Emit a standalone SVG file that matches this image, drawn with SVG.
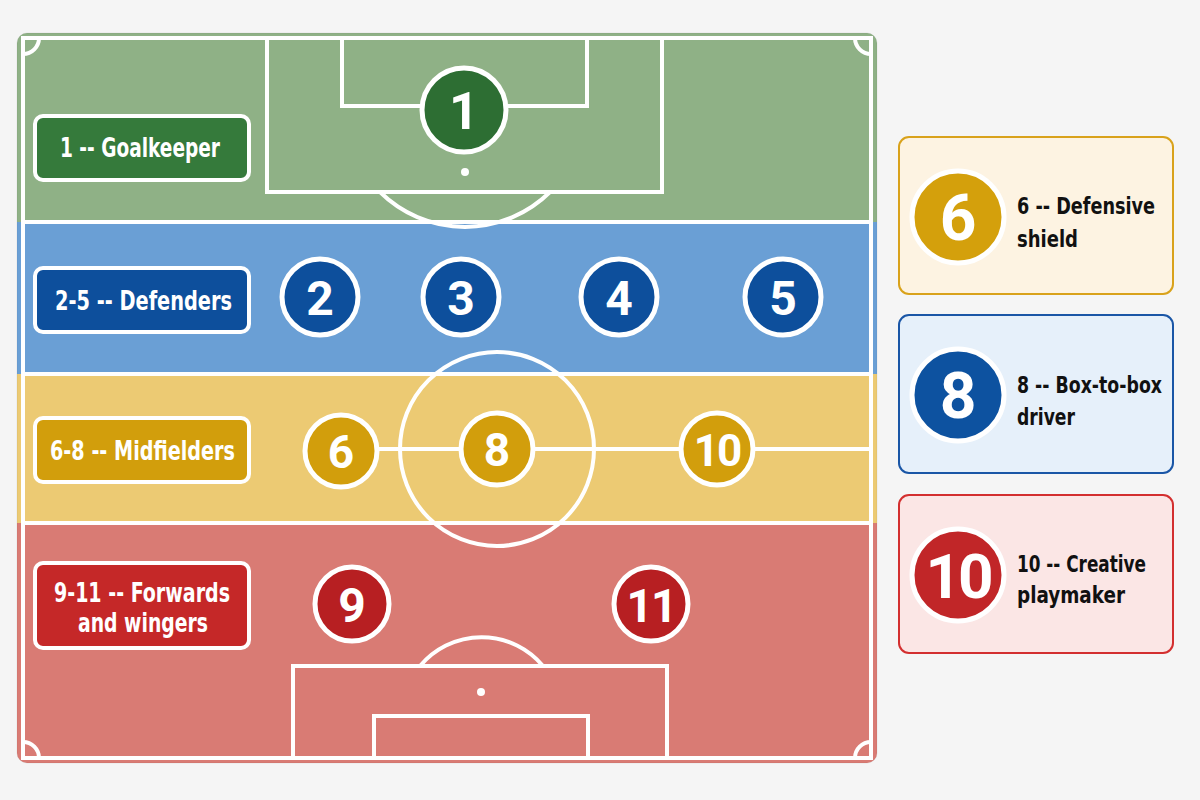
<svg xmlns="http://www.w3.org/2000/svg" width="1200" height="800" viewBox="0 0 1200 800">
  <style>
    .line { fill: none; stroke: #ffffff; stroke-width: 4; }
    .lbl { font-family: "DejaVu Sans Condensed", "Roboto", sans-serif; font-weight: bold; fill: #ffffff; font-size: 26px; }
    .num { font-family: "Roboto", "Liberation Sans", sans-serif; font-weight: bold; fill: #ffffff; text-anchor: middle; }
    .lgd { font-family: "DejaVu Sans Condensed", "Roboto", sans-serif; font-weight: bold; fill: #111111; font-size: 23px; }
    .box { stroke: #ffffff; stroke-width: 4; }
    .pl { stroke: #ffffff; stroke-width: 5; }
  </style>
  <defs>
    <clipPath id="fieldClip">
      <rect x="17" y="33" width="860" height="730" rx="10"/>
    </clipPath>
  </defs>
  <rect width="1200" height="800" fill="#f5f5f5"/>

  <g id="field">
    <g clip-path="url(#fieldClip)">
      <rect x="17" y="33" width="860" height="190" fill="#8fb186"/>
      <rect x="17" y="222" width="860" height="152" fill="#6a9fd5"/>
      <rect x="17" y="374" width="860" height="149" fill="#ecca73"/>
      <rect x="17" y="523" width="860" height="240" fill="#d97b74"/>
    </g>
    <rect x="17" y="33" width="860" height="730" rx="10" fill="none" stroke="#000" stroke-opacity="0.06" stroke-width="1"/>
    <rect class="line" x="23" y="38" width="848" height="720"/>
    <line class="line" x1="23" y1="222" x2="871" y2="222"/>
    <line class="line" x1="23" y1="374" x2="871" y2="374"/>
    <line class="line" x1="23" y1="523" x2="871" y2="523"/>
    <path class="line" d="M23,54 A16,16 0 0 0 39,38"/>
    <path class="line" d="M855,38 A16,16 0 0 0 871,54"/>
    <path class="line" d="M39,758 A16,16 0 0 0 23,742"/>
    <path class="line" d="M871,742 A16,16 0 0 0 855,758"/>
    <rect class="line" x="267" y="38" width="395" height="154"/>
    <rect class="line" x="342" y="38" width="245" height="68"/>
    <circle cx="465" cy="172" r="4" fill="#ffffff"/>
    <path class="line" d="M380,192 A121,121 0 0 0 550,192"/>
    <circle class="line" cx="497" cy="449" r="97"/>
    <line class="line" x1="340" y1="449" x2="871" y2="449"/>
    <rect class="line" x="293" y="666" width="374" height="92"/>
    <rect class="line" x="374" y="716" width="214" height="42"/>
    <circle cx="481" cy="692" r="4" fill="#ffffff"/>
    <path class="line" d="M420,666 A80,80 0 0 1 543,666"/>
  </g>

  <g id="label-gk">
    <rect class="box" x="35" y="116" width="214" height="64" rx="8" fill="#357a3b"/>
    <text class="lbl" x="60" y="157" textLength="160" lengthAdjust="spacingAndGlyphs">1 -- Goalkeeper</text>
  </g>
  <g id="label-def">
    <rect class="box" x="35" y="268" width="214" height="64" rx="8" fill="#0d4f9c"/>
    <text class="lbl" x="55" y="310" textLength="177" lengthAdjust="spacingAndGlyphs">2-5 -- Defenders</text>
  </g>
  <g id="label-mid">
    <rect class="box" x="35" y="418" width="214" height="64" rx="8" fill="#d29e0c"/>
    <text class="lbl" x="50" y="460" textLength="185" lengthAdjust="spacingAndGlyphs">6-8 -- Midfielders</text>
  </g>
  <g id="label-fwd">
    <rect class="box" x="35" y="563" width="214" height="85" rx="8" fill="#c52828"/>
    <text class="lbl" x="54" y="602" textLength="176" lengthAdjust="spacingAndGlyphs">9-11 -- Forwards</text>
    <text class="lbl" x="78" y="632" textLength="130" lengthAdjust="spacingAndGlyphs">and wingers</text>
  </g>

  <g id="player-1"><circle class="pl" cx="464" cy="110" r="42" fill="#2d6e33"/><text class="num" x="464" y="129" font-size="52">1</text></g>
  <g id="player-2"><circle class="pl" cx="320" cy="297" r="38" fill="#0d4f9c"/><text class="num" x="320" y="315" font-size="48">2</text></g>
  <g id="player-3"><circle class="pl" cx="461" cy="297" r="38" fill="#0d4f9c"/><text class="num" x="461" y="315" font-size="48">3</text></g>
  <g id="player-4"><circle class="pl" cx="619" cy="297" r="38" fill="#0d4f9c"/><text class="num" x="619" y="315" font-size="48">4</text></g>
  <g id="player-5"><circle class="pl" cx="783" cy="297" r="38" fill="#0d4f9c"/><text class="num" x="783" y="315" font-size="48">5</text></g>
  <g id="player-6"><circle class="pl" cx="341" cy="451" r="36" fill="#d29e0c"/><text class="num" x="341" y="468" font-size="46">6</text></g>
  <g id="player-8"><circle class="pl" cx="497" cy="449" r="36" fill="#d29e0c"/><text class="num" x="497" y="466" font-size="46">8</text></g>
  <g id="player-10"><circle class="pl" cx="717" cy="449" r="36" fill="#d29e0c"/><text class="num" x="717" y="466" font-size="44" letter-spacing="-2">10</text></g>
  <g id="player-9"><circle class="pl" cx="352" cy="604" r="37" fill="#b71f22"/><text class="num" x="352" y="622" font-size="48">9</text></g>
  <g id="player-11"><circle class="pl" cx="651" cy="604" r="37" fill="#b71f22"/><text class="num" x="651" y="622" font-size="46" letter-spacing="-2">11</text></g>

  <g id="legend-6">
    <rect x="899" y="137" width="274" height="157" rx="10" fill="#fdf3e2" stroke="#d9a21b" stroke-width="2"/>
    <circle cx="958" cy="217" r="46" fill="#d4a00c" stroke="#ffffff" stroke-width="5"/>
    <text class="num" x="958" y="240" font-size="64">6</text>
    <text class="lgd" x="1017" y="214" textLength="138" lengthAdjust="spacingAndGlyphs">6 -- Defensive</text>
    <text class="lgd" x="1017" y="247" textLength="61" lengthAdjust="spacingAndGlyphs">shield</text>
  </g>
  <g id="legend-8">
    <rect x="899" y="315" width="274" height="158" rx="10" fill="#e6f0fa" stroke="#1a56a6" stroke-width="2"/>
    <circle cx="958" cy="395" r="46" fill="#0d52a0" stroke="#ffffff" stroke-width="5"/>
    <text class="num" x="958" y="418" font-size="64">8</text>
    <text class="lgd" x="1017" y="393" textLength="145" lengthAdjust="spacingAndGlyphs">8 -- Box-to-box</text>
    <text class="lgd" x="1017" y="425" textLength="58" lengthAdjust="spacingAndGlyphs">driver</text>
  </g>
  <g id="legend-10">
    <rect x="899" y="495" width="274" height="158" rx="10" fill="#fbe6e5" stroke="#d32f2f" stroke-width="2"/>
    <circle cx="958" cy="575" r="46" fill="#c12628" stroke="#ffffff" stroke-width="5"/>
    <text class="num" x="958" y="598" font-size="62" letter-spacing="-3">10</text>
    <text class="lgd" x="1017" y="572" textLength="129" lengthAdjust="spacingAndGlyphs">10 -- Creative</text>
    <text class="lgd" x="1017" y="603" textLength="108" lengthAdjust="spacingAndGlyphs">playmaker</text>
  </g>
</svg>
